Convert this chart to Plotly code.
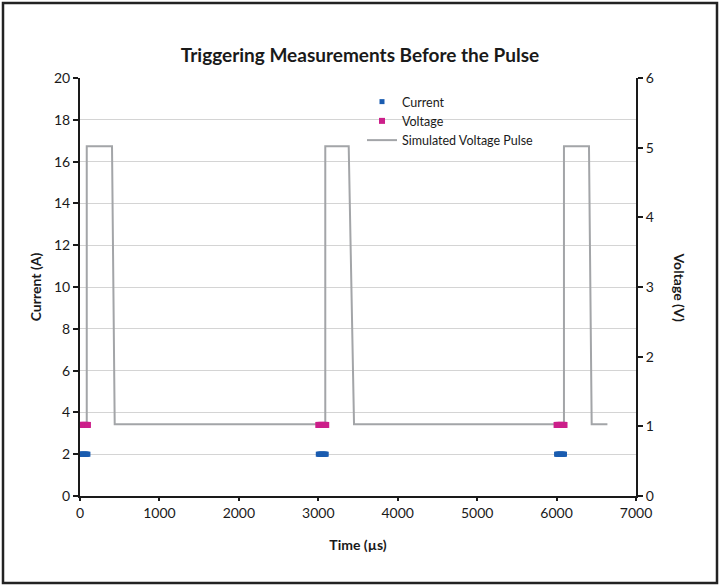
import plotly.graph_objects as go

# Pulse waveform (time in µs, voltage in V)
pulse_t = [85, 85, 403, 437, 3088, 3088, 3383, 3450, 6093, 6093, 6408, 6442, 6640]
pulse_v = [1.03, 5.02, 5.02, 1.03, 1.03, 5.02, 5.02, 1.03, 1.03, 5.02, 5.02, 1.03, 1.03]

# Measurement samples
meas_t = [0, 10, 20, 30, 40, 50, 60, 70, 80, 90, 100,
          3000, 3010, 3020, 3030, 3040, 3050, 3060, 3070, 3080, 3090, 3100,
          6000, 6010, 6020, 6030, 6040, 6050, 6060, 6070, 6080, 6090, 6100]
current_a = [2.0] * 11 + [2.0] * 11 + [2.0] * 11
voltage_v = [1.02] * 11 + [1.02] * 11 + [1.02] * 11

x_ticks = [0, 1000, 2000, 3000, 4000, 5000, 6000, 7000]
y1_ticks = [0, 2, 4, 6, 8, 10, 12, 14, 16, 18, 20]
y2_ticks = [0, 1, 2, 3, 4, 5, 6]

FONT = "Lato"
DARK = "#1a1a1a"

fig = go.Figure()

fig.add_trace(go.Scatter(
    x=pulse_t, y=pulse_v, mode="lines", name="Simulated Voltage Pulse",
    line=dict(color="#a3a5a8", width=2), legendrank=3,
    yaxis="y2"))
fig.add_trace(go.Scatter(
    x=meas_t, y=current_a, mode="markers", name="Current",
    marker=dict(symbol="square", size=5, color="#1a5cb0"), legendrank=1,
    yaxis="y"))
fig.add_trace(go.Scatter(
    x=meas_t, y=voltage_v, mode="markers", name="Voltage",
    marker=dict(symbol="square", size=6, color="#cc1f8a"), legendrank=2,
    yaxis="y2"))

fig.update_layout(
    width=720, height=586,
    margin=dict(l=80, r=84, t=78, b=90),
    paper_bgcolor="white", plot_bgcolor="white",
    font=dict(family=FONT, size=14, color=DARK),
    title=dict(text="<b>Triggering Measurements Before the Pulse</b>",
               x=0.5, xanchor="center", y=1 - 55/586, yanchor="middle",
               font=dict(family=FONT, size=19, color=DARK)),
    showlegend=True,
    legend=dict(x=(362-80)/556, y=(496-87)/418, xanchor="left", yanchor="top",
                bgcolor="rgba(255,255,255,0)", font=dict(size=12.5, color=DARK),
                traceorder="normal", itemwidth=30, tracegroupgap=0),
    xaxis=dict(range=[0, 7000], tickvals=x_ticks, showgrid=False,
               showline=True, linecolor=DARK, linewidth=2,
               ticks="outside", ticklen=3, tickwidth=1.5, tickcolor=DARK,
               zeroline=False,
               title=dict(text="<b>Time (µs)</b>", font=dict(size=14), standoff=20)),
    yaxis=dict(range=[0, 20], tickvals=y1_ticks, showgrid=True,
               gridcolor="#d4d4d4", gridwidth=1,
               showline=True, linecolor=DARK, linewidth=2,
               ticks="outside", ticklen=5, tickwidth=2, tickcolor=DARK,
               zeroline=False,
               title=dict(text="<b>Current (A)</b>", font=dict(size=14), standoff=9)),
    yaxis2=dict(range=[0, 6], tickvals=y2_ticks, overlaying="y", side="right",
                showgrid=False, showline=True, linecolor=DARK, linewidth=2,
                ticks="outside", ticklen=5, tickwidth=2, tickcolor=DARK,
                zeroline=False),
)

# Right axis title reading top-to-bottom
fig.add_annotation(text="<b>Voltage (V)</b>", xref="paper", yref="paper",
                   x=(690-80)/556, y=0.5, showarrow=False, textangle=90,
                   font=dict(size=14, color=DARK))

# Outer frame
fig.add_shape(type="rect", xref="paper", yref="paper",
              x0=(3-80)/556, x1=(717-80)/556,
              y0=(496-583)/418, y1=(496-3)/418,
              line=dict(color="#222222", width=2.5), layer="below")

fig.write_html("out.html")
